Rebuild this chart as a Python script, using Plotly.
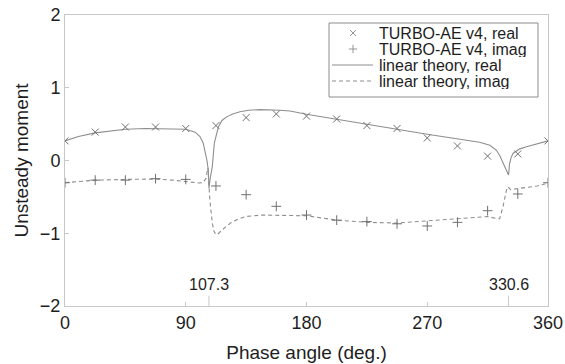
import plotly.graph_objects as go

# ---- data ----
phase_cfd = [0, 22.5, 45, 67.5, 90, 112.5, 135, 157.5, 180, 202.5, 225,
             247.5, 270, 292.5, 315, 337.5, 360]
cfd_real = [0.27, 0.39, 0.46, 0.46, 0.44, 0.48, 0.59, 0.64, 0.61, 0.57, 0.48,
            0.44, 0.31, 0.20, 0.06, 0.09, 0.27]
cfd_imag = [-0.305, -0.27, -0.27, -0.25, -0.26, -0.35, -0.47, -0.63, -0.75, -0.82,
            -0.84, -0.87, -0.90, -0.85, -0.69, -0.46, -0.305]

phase_th_real = [0, 10, 22.5, 35, 45, 60, 70, 80, 90, 97, 100.6, 103, 104.3, 105.8,
                 106.8, 107.3, 108.2, 109.8, 111.3, 114.3, 117, 120.5, 125, 130.4,
                 137, 145, 160, 167.7, 180, 202.5, 225, 247.5, 270, 292.5, 309,
                 316.7, 321.6, 324, 326.6, 328.5, 330.6, 331.3, 332.5, 334, 339,
                 344, 350, 355, 360]
th_real = [0.27, 0.33, 0.38, 0.41, 0.43, 0.44, 0.44, 0.44, 0.43, 0.39, 0.33, 0.24,
           0.14, 0.0, -0.13, -0.38, -0.25, -0.08, 0.24, 0.46, 0.55, 0.60, 0.64,
           0.67, 0.69, 0.70, 0.69, 0.68, 0.635, 0.57, 0.50, 0.43, 0.36, 0.30, 0.25,
           0.21, 0.14, 0.07, -0.04, -0.12, -0.20, -0.05, 0.04, 0.10, 0.16, 0.19,
           0.22, 0.245, 0.27]

phase_th_imag = [0, 10, 22.5, 45, 67.5, 80, 90, 100, 103, 105, 106.5, 107.3, 108,
                 109.8, 111, 112.5, 114, 117.3, 121, 124.7, 130, 134.7, 147, 160,
                 180, 202.5, 225, 247.5, 270, 292.5, 315, 322.6, 324, 326.5, 329,
                 330.2, 332, 344, 352, 360]
th_imag = [-0.305, -0.29, -0.27, -0.26, -0.255, -0.27, -0.29, -0.31, -0.30, -0.25,
           -0.10, -0.30, -0.55, -0.86, -0.97, -1.02, -1.01, -0.95, -0.89, -0.84,
           -0.80, -0.77, -0.75, -0.755, -0.76, -0.82, -0.85, -0.86, -0.83, -0.79,
           -0.77, -0.80, -0.80, -0.63, -0.41, -0.36, -0.40, -0.37, -0.35, -0.31]

x_ticks = [0, 90, 180, 270, 360]
y_ticks = [-2, -1, 0, 1, 2]
resonances = [107.3, 330.6]
legend_labels = ["TURBO-AE v4, real", "TURBO-AE v4, imag",
                 "linear theory, real", "linear theory, imag"]

FONT = "Liberation Sans, Arial, sans-serif"
TXT = "#1e1e1e"
LINE_C = "#8e8e8e"
MARK_C = "#707070"
FRAME_C = "#c8c8c8"

fig = go.Figure()
fig.add_trace(go.Scatter(x=phase_th_real, y=th_real, mode="lines",
                         line=dict(color=LINE_C, width=1.1), showlegend=False))
fig.add_trace(go.Scatter(x=phase_th_imag, y=th_imag, mode="lines",
                         line=dict(color=LINE_C, width=1.1, dash="4px,3px"),
                         showlegend=False))
fig.add_trace(go.Scatter(x=phase_cfd, y=cfd_real, mode="markers",
                         marker=dict(symbol="x-thin-open", size=7, color=MARK_C,
                                     line=dict(color=MARK_C, width=1)),
                         showlegend=False))
fig.add_trace(go.Scatter(x=phase_cfd, y=cfd_imag, mode="markers",
                         marker=dict(symbol="cross-thin-open", size=7, color=MARK_C,
                                     line=dict(color=MARK_C, width=1)),
                         showlegend=False))

# ---- custom legend on an overlay axis (units: px from plot's bottom-left) ----
def px(x):
    return x - 65
def py(y):
    return 306 - y

row_y = [33, 49, 65, 81]
fig.add_shape(type="rect", xref="x2", yref="y2", x0=px(329), x1=px(538),
              y0=py(97), y1=py(23), line=dict(color="#8c8c8c", width=1),
              fillcolor="white", layer="below")
fig.add_trace(go.Scatter(x=[px(353)], y=[py(row_y[0])], xaxis="x2", yaxis="y2",
                         mode="markers", showlegend=False, hoverinfo="skip",
                         marker=dict(symbol="x-thin-open", size=6, color="#959595",
                                     line=dict(color="#959595", width=1))))
fig.add_trace(go.Scatter(x=[px(353)], y=[py(row_y[1])], xaxis="x2", yaxis="y2",
                         mode="markers", showlegend=False, hoverinfo="skip",
                         marker=dict(symbol="cross-thin-open", size=6, color="#959595",
                                     line=dict(color="#959595", width=1))))
fig.add_trace(go.Scatter(x=[px(332), px(373)], y=[py(row_y[2])] * 2,
                         xaxis="x2", yaxis="y2", mode="lines", showlegend=False,
                         hoverinfo="skip", line=dict(color=LINE_C, width=1.1)))
fig.add_trace(go.Scatter(x=[px(332), px(373)], y=[py(row_y[3])] * 2,
                         xaxis="x2", yaxis="y2", mode="lines", showlegend=False,
                         hoverinfo="skip",
                         line=dict(color=LINE_C, width=1.1, dash="4px,3px")))
for lab, ry in zip(legend_labels, row_y):
    fig.add_annotation(x=px(378), y=py(ry), xref="x2", yref="y2", text=lab,
                       showarrow=False, xanchor="left", yanchor="middle",
                       height=16, borderpad=0,
                       font=dict(family=FONT, size=16, color=TXT))

# resonance markers
for r in resonances:
    fig.add_shape(type="line", xref="x", yref="y", x0=r, x1=r, y0=-2, y1=-1.86,
                  line=dict(color=FRAME_C, width=1))
    fig.add_annotation(x=r, y=-1.70, text=f"{r:.1f}", showarrow=False,
                       font=dict(family=FONT, size=16, color=TXT),
                       xanchor="center", yanchor="middle")

fig.update_layout(
    width=565, height=364,
    margin=dict(l=65, r=17, t=15, b=58, autoexpand=False),
    paper_bgcolor="white", plot_bgcolor="white",
    font=dict(family=FONT, color=TXT, size=18),
    xaxis=dict(range=[0, 360], tickvals=x_ticks, ticks="inside", ticklen=4,
               tickcolor=FRAME_C, showgrid=False, zeroline=False,
               showline=True, linecolor=FRAME_C, linewidth=1, mirror=True,
               automargin=False,
               tickfont=dict(size=18, family=FONT, color=TXT),
               title=dict(text="Phase angle (deg.)", standoff=14,
                          font=dict(size=19, family=FONT, color=TXT))),
    yaxis=dict(range=[-2, 2], tickvals=y_ticks, ticks="inside", ticklen=4,
               tickcolor=FRAME_C, showgrid=False, zeroline=False,
               showline=True, linecolor=FRAME_C, linewidth=1, mirror=True,
               automargin=False,
               tickfont=dict(size=18, family=FONT, color=TXT),
               title=dict(text="Unsteady moment", standoff=6,
                          font=dict(size=19, family=FONT, color=TXT))),
    xaxis2=dict(overlaying="x", range=[0, 483], visible=False, fixedrange=True),
    yaxis2=dict(overlaying="y", range=[0, 291], visible=False, fixedrange=True),
)

fig.write_html("out.html", config={"displayModeBar": False},
               post_script="document.body.style.margin='0';"
                           "document.body.style.overflow='hidden';")
